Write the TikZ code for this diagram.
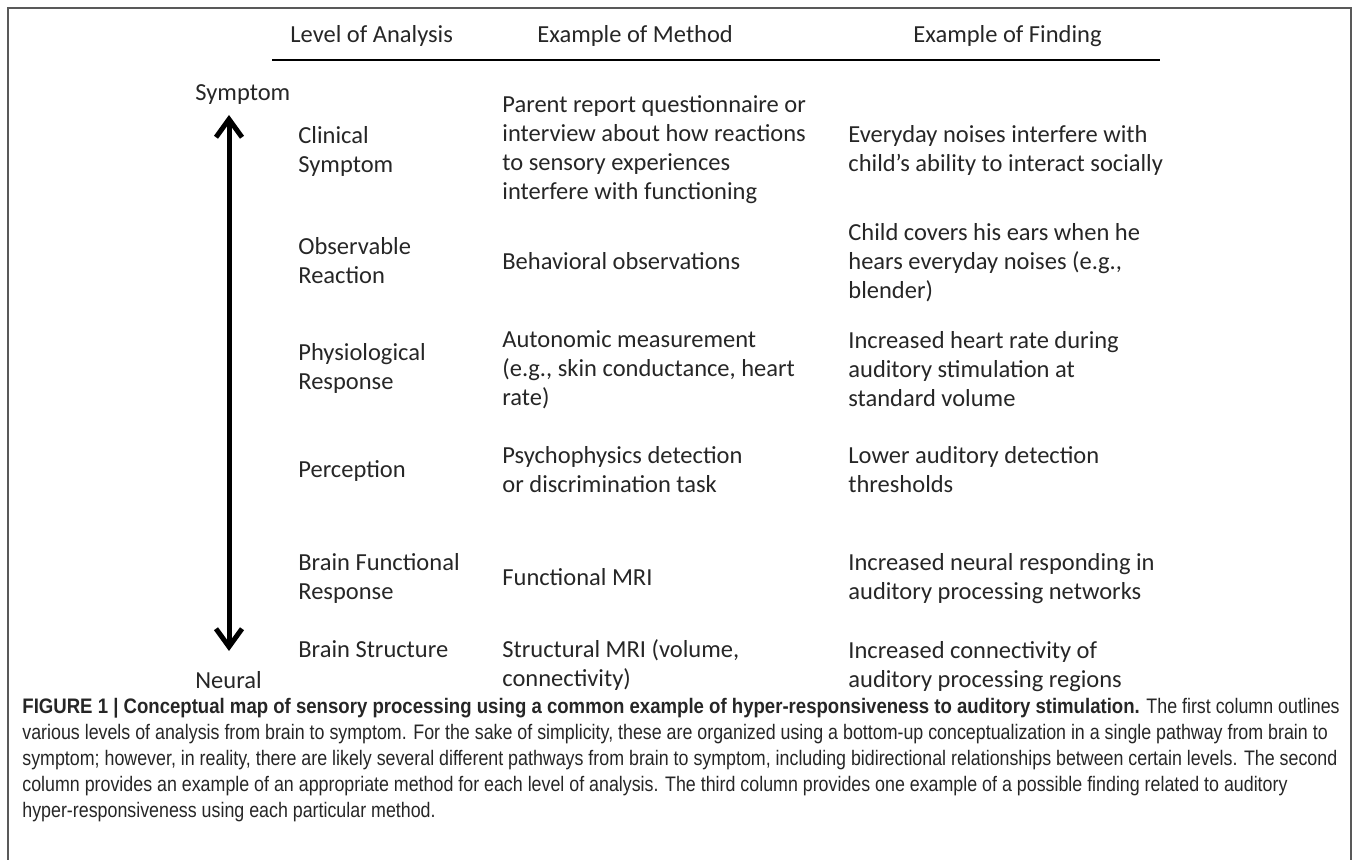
\documentclass[tikz,border=0pt]{standalone}
\usepackage{fontspec}
\setmainfont{Carlito}
\newfontfamily\capfont[FakeStretch=0.849, BoldFeatures={FakeStretch=0.885}]{Liberation Sans}
\usetikzlibrary{arrows.meta}

\tikzset{
  cell/.style={anchor=north west, inner sep=0pt, align=left, text=black!85,
    yshift=8.65pt, font=\fontsize{12.25}{14.5}\selectfont,
    execute at begin node=\strut},
  head/.style={anchor=base west, inner sep=0pt, text=black!85,
    font=\fontsize{12.25}{14.5}\selectfont},
  barb/.style={line width=2.5pt, {Straight Barb[length=9pt,width=13pt]}-{Straight Barb[length=9pt,width=13pt]}},
}

\begin{document}
\begin{tikzpicture}[x=0.5pt, y=-0.5pt]
\useasboundingbox (0,0) rectangle (1358,860);
\draw[color=black!65, line width=1pt] (8,860)--(8,8)--(1351,8)--(1351,860);

% column headings
\node[head] (hlevel) at (290,43) {Level of Analysis};
\node[head] (hmethod) at (537,43) {Example of Method};
\node[head] (hfinding) at (913,43) {Example of Finding};
\draw[line width=1pt] (272,60)--(1160,60);

% symptom <-> neural axis
\node[head] (symptom) at (195,101) {Symptom};
\node[head] (neural) at (195,688) {Neural};
\coordinate (up) at (229,115);
\coordinate (down) at (229,651);
\draw[barb] (down)--(up);

% first column
\foreach \n/\y/\txt in {1/143/{Clinical\\Symptom}, 2/254/{Observable\\Reaction},
    3/360/{Physiological\\Response}, 4/474/{Perception},
    5/570/{Brain Functional\\Response}, 6/654/{Brain Structure}}{
  \node[cell] (level\n) at (298,\y) {\txt};
}

% second column
\foreach \n/\y/\txt in {1/112/{Parent report questionnaire or\\interview about how reactions\\to sensory experiences\\interfere with functioning},
    2/266/{Behavioral observations},
    3/348/{Autonomic measurement\\(e.g., skin conductance, heart\\rate)},
    4/463/{Psychophysics detection\\or discrimination task},
    5/582/{Functional MRI},
    6/656/{Structural MRI (volume,\\connectivity)}}{
  \node[cell] (method\n) at (502,\y) {\txt};
}

% third column
\foreach \n/\y/\txt in {1/142/{Everyday noises interfere with\\child’s ability to interact socially},
    2/240/{Child covers his ears when he\\hears everyday noises (e.g.,\\blender)},
    3/348/{Increased heart rate during\\auditory stimulation at\\standard volume},
    4/463/{Lower auditory detection\\thresholds},
    5/570/{Increased neural responding in\\auditory processing networks},
    6/658/{Increased connectivity of\\auditory processing regions}}{
  \node[cell] (finding\n) at (848,\y) {\txt};
}

% caption
\node[anchor=north west, inner sep=0pt, align=left, text=black!85, yshift=9.1pt,
    font=\capfont\fontsize{10.5}{13}\selectfont, execute at begin node=\strut] (caption) at (22,716)
  {\textbf{FIGURE 1 | Conceptual map of sensory processing using a common example of hyper-responsiveness to auditory stimulation.} The first column outlines\\
   various levels of analysis from brain to symptom. For the sake of simplicity, these are organized using a bottom-up conceptualization in a single pathway from brain to\\
   symptom; however, in reality, there are likely several different pathways from brain to symptom, including bidirectional relationships between certain levels. The second\\
   column provides an example of an appropriate method for each level of analysis. The third column provides one example of a possible finding related to auditory\\
   hyper-responsiveness using each particular method.};

\end{tikzpicture}
\end{document}
